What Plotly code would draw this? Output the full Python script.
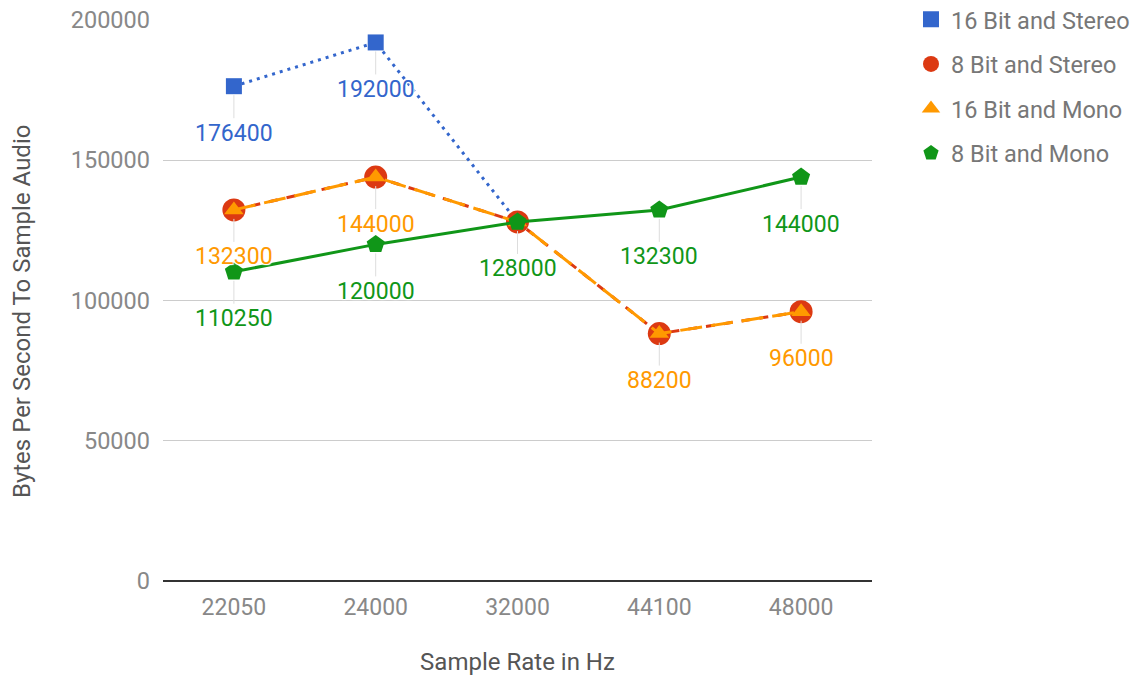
import plotly.graph_objects as go

categories = ["22050", "24000", "32000", "44100", "48000"]
series_names = ["16 Bit and Stereo", "8 Bit and Stereo", "16 Bit and Mono", "8 Bit and Mono"]
stereo16 = [176400, 192000, 128000, None, None]
stereo8 = [132300, 144000, 128000, 88200, 96000]
mono16 = [132300, 144000, 128000, 88200, 96000]
mono8 = [110250, 120000, 128000, 132300, 144000]
values = [stereo16, stereo8, mono16, mono8]
y_ticks = [0, 50000, 100000, 150000, 200000]
x_title = "Sample Rate in Hz"
y_title = "Bytes Per Second To Sample Audio"

# which data labels are visible (overlapping labels are hidden, as in the original)
label_visible = [
    [True, True, False, False, False],
    [False, False, False, False, False],
    [True, True, False, True, True],
    [True, True, True, True, True],
]

colors = ["#3366CC", "#DC3912", "#FF9900", "#109618"]
symbols = ["square", "circle", "triangle-up", "pentagon"]
sizes = [16, 23, 17, 19]
dashes = ["3px,5px", "dash", "22px,9px", "solid"]

FONT = "Roboto, Arial, sans-serif"

fig = go.Figure()
for i, name in enumerate(series_names):
    fig.add_trace(go.Scatter(
        x=categories, y=values[i], name=name, mode="lines+markers",
        showlegend=False,
        line=dict(color=colors[i], width=3, dash=dashes[i]),
        marker=dict(symbol=symbols[i], size=sizes[i], color=colors[i]),
        connectgaps=False,
    ))
# legend entries show only the marker symbol
for i, name in enumerate(series_names):
    fig.add_trace(go.Scatter(
        x=[None], y=[None], name=name, mode="markers", legendgroup=name,
        marker=dict(symbol=symbols[i], size=sizes[i], color=colors[i]),
        hoverinfo="skip",
    ))

annotations = []
for i in range(len(series_names)):
    for j, c in enumerate(categories):
        v = values[i][j]
        if v is None or not label_visible[i][j]:
            continue
        annotations.append(dict(
            x=j, y=v, xref="x", yref="y", text=str(v),
            showarrow=True, arrowhead=0, arrowwidth=1, arrowcolor="#dddddd",
            ax=0, ay=47, standoff=9,
            font=dict(family=FONT, size=23, color=colors[i],
                      shadow="1px 1px 1px white, -1px -1px 1px white, 1px -1px 1px white, -1px 1px 1px white"),
        ))
# y axis title
annotations.append(dict(
    text=y_title, xref="paper", yref="paper", x=-0.199, y=0.481,
    textangle=-90, showarrow=False, xanchor="center", yanchor="middle",
    font=dict(family=FONT, size=24, color="#555555"),
))

fig.update_layout(
    width=1143, height=678,
    paper_bgcolor="white", plot_bgcolor="white",
    margin=dict(l=163, r=271, t=20, b=97, autoexpand=False),
    font=dict(family=FONT, size=23, color="#888888"),
    showlegend=True,
    legend=dict(x=1.055, y=1.04, xanchor="left", yanchor="top",
                font=dict(family=FONT, size=23.5, color="#777777"),
                tracegroupgap=11, bgcolor="rgba(0,0,0,0)"),
    annotations=annotations,
    xaxis=dict(
        type="category", range=[-0.5, 4.5], showgrid=False, showline=False,
        ticks="", ticklabelstandoff=10,
        tickfont=dict(family=FONT, size=23, color="#888888"),
        title=dict(text=x_title, standoff=33,
                   font=dict(family=FONT, size=24, color="#555555")),
        fixedrange=True,
    ),
    yaxis=dict(
        range=[0, 200000], tickvals=y_ticks, ticktext=[str(t) for t in y_ticks],
        showgrid=True, gridcolor="#cccccc", gridwidth=1,
        zeroline=True, zerolinecolor="#333333", zerolinewidth=2,
        showline=False, ticks="", ticklabelstandoff=12,
        tickfont=dict(family=FONT, size=23.5, color="#888888"),
        fixedrange=True,
    ),
)

fig.write_html("out.html", config={"displayModeBar": False},
               post_script="document.body.style.margin='0';")
